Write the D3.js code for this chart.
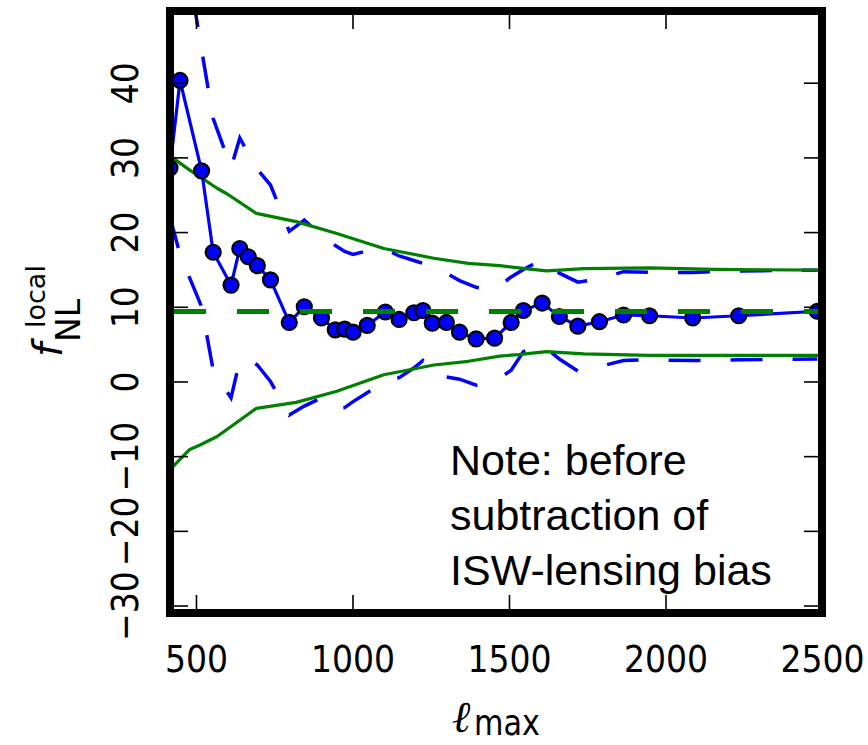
<!DOCTYPE html>
<html>
<head>
<meta charset="utf-8">
<script src="https://cdn.jsdelivr.net/npm/d3@7"></script>
<style>
  body { margin: 0; background: #fff; }
  svg { display: block; }
</style>
</head>
<body>
<div id="chart"></div>
<script>
// ell_max values of the estimates
var ellMax = [417, 449, 518, 555, 612, 640, 667, 696, 738, 798, 846, 901, 945, 975, 1002, 1047, 1105, 1149,
              1196, 1225, 1255, 1300, 1342, 1395, 1454, 1507, 1546, 1606, 1661, 1720, 1789, 1866, 1949, 2087, 2234, 2485];
var fnlEst = [28.6, 40.3, 28.2, 17.3, 12.9, 17.8, 16.7, 15.5, 13.6, 7.9, 10.0, 8.5, 6.9, 7.0, 6.6, 7.5, 9.3, 8.3,
              9.2, 9.5, 7.8, 7.9, 6.6, 5.7, 5.8, 7.9, 9.5, 10.5, 8.7, 7.4, 8.0, 8.9, 8.8, 8.5, 8.8, 9.4];
var errHi  = [56, 62, 44.4, 35.2, 28.6, 32.6, 30.5, 28.4, 26.3, 20.1, 21.6, 19.5, 18.2, 17.4, 17.0, 17.5, 17.7, 16.8,
              16.2, 15.8, 15.4, 14.5, 13.5, 12.6, 12.3, 14.0, 15.0, 16.3, 14.5, 13.3, 13.7, 14.7, 14.6, 14.6, 14.8, 14.9];
var errLo  = [22, 17, 10, 1.5, -2.2, 2.8, 3.0, 2.2, 0.0, -4.5, -3.3, -2.2, -3.6, -3.5, -2.7, -1.5, 0.0, 0.5,
              1.8, 2.8, 1.1, 0.6, 0.3, -0.5, 0.0, 1.5, 4.0, 4.9, 3.0, 1.4, 2.0, 2.8, 2.9, 2.8, 2.9, 3.0];

// expected spread (green band)
var bandEll = [417, 480, 513, 566, 600, 693, 820, 950, 1100, 1260, 1370, 1470, 1530, 1620, 1740, 1950, 2160, 2500];
var bandHi  = [30.2, 28.3, 27.4, 25.9, 25.1, 22.5, 21.4, 19.8, 17.8, 16.5, 15.8, 15.5, 15.2, 14.8, 15.1, 15.2, 15.0, 14.9];
var bandLo  = [-11.8, -9.1, -8.5, -7.4, -6.4, -3.6, -2.8, -1.3, 0.9, 2.2, 2.7, 3.4, 3.6, 4.0, 3.7, 3.5, 3.5, 3.5];

var fnlMean = 9.37;

var xTicks = [500, 1000, 1500, 2000, 2500];
var yTicks = [-30, -20, -10, 0, 10, 20, 30, 40];
var noteLines = ["Note: before", "subtraction of", "ISW-lensing bias"];

var W = 868, H = 745;
var pLeft = 170, pRight = 822, pTop = 11, pBottom = 613;
var blue = "#0000ff", green = "#008000";

var svg = d3.select("#chart").append("svg")
    .attr("width", W)
    .attr("height", H);

var xScale = d3.scaleLinear().domain([417, 2500]).range([pLeft, pRight]);
var yScale = d3.scaleLinear().domain([-31, 49.6]).range([pBottom, pTop]);

svg.append("clipPath").attr("id", "plotClip")
    .append("rect")
    .attr("x", pLeft).attr("y", pTop)
    .attr("width", pRight - pLeft).attr("height", pBottom - pTop);

var plot = svg.append("g").attr("clip-path", "url(#plotClip)");

var line = d3.line()
    .x(function (d) { return xScale(d[0]); })
    .y(function (d) { return yScale(d[1]); });

// blue dashed error lines
[errHi, errLo].forEach(function (arr) {
    plot.append("path")
        .datum(d3.zip(ellMax, arr))
        .attr("d", line)
        .attr("fill", "none")
        .attr("stroke", blue)
        .attr("stroke-width", 3.5)
        .attr("stroke-dasharray", "32,30");
});

// green band
[bandHi, bandLo].forEach(function (arr) {
    plot.append("path")
        .datum(d3.zip(bandEll, arr))
        .attr("d", line)
        .attr("fill", "none")
        .attr("stroke", green)
        .attr("stroke-width", 3.2)
        .attr("stroke-linejoin", "round");
});

// estimates
plot.append("path")
    .datum(d3.zip(ellMax, fnlEst))
    .attr("d", line)
    .attr("fill", "none")
    .attr("stroke", blue)
    .attr("stroke-width", 3.2);

plot.selectAll("circle")
    .data(d3.zip(ellMax, fnlEst))
    .enter()
    .append("circle")
    .attr("cx", function (d) { return xScale(d[0]); })
    .attr("cy", function (d) { return yScale(d[1]); })
    .attr("r", 7.5)
    .attr("fill", blue)
    .attr("stroke", "#000")
    .attr("stroke-width", 2.2);

// mean line
plot.append("line")
    .attr("x1", pLeft).attr("x2", pRight)
    .attr("y1", yScale(fnlMean)).attr("y2", yScale(fnlMean))
    .attr("stroke", green)
    .attr("stroke-width", 5)
    .attr("stroke-dasharray", "32,31")
    .attr("stroke-dashoffset", -4);

// axes (ticks point inward)
function styleAxis(g) {
    g.select(".domain").remove();
    g.selectAll(".tick line").attr("stroke", "#000").attr("stroke-width", 1.6);
}

var xAxis = svg.append("g")
    .attr("transform", "translate(0," + pBottom + ")")
    .call(d3.axisBottom(xScale).tickValues(xTicks).tickSizeInner(-18).tickSizeOuter(0).tickFormat(d3.format("d")))
    .call(styleAxis);
xAxis.selectAll(".tick text")
    .attr("x", null).attr("y", null).attr("dy", null)
    .attr("transform", "translate(0," + (672 - pBottom) + ") scale(0.87,1)")
    .attr("text-anchor", "middle")
    .attr("fill", "#000")
    .style("font-family", "'DejaVu Sans', sans-serif")
    .style("font-size", "38px");

svg.append("g")
    .attr("transform", "translate(0," + pTop + ")")
    .call(d3.axisTop(xScale).tickValues(xTicks).tickSizeInner(-18).tickSizeOuter(0).tickFormat(""))
    .call(styleAxis);

var yAxis = svg.append("g")
    .attr("transform", "translate(" + pLeft + ",0)")
    .call(d3.axisLeft(yScale).tickValues(yTicks).tickSizeInner(-18).tickSizeOuter(0)
        .tickFormat(function (d) { return d < 0 ? "\u2212" + Math.abs(d) : String(d); }))
    .call(styleAxis);
yAxis.selectAll(".tick text")
    .attr("x", null).attr("y", null).attr("dy", null)
    .attr("transform", "translate(" + (138 - pLeft) + ",0) rotate(-90) scale(0.87,1)")
    .attr("text-anchor", "middle")
    .attr("fill", "#000")
    .style("font-family", "'DejaVu Sans', sans-serif")
    .style("font-size", "38px");

svg.append("g")
    .attr("transform", "translate(" + pRight + ",0)")
    .call(d3.axisRight(yScale).tickValues(yTicks).tickSizeInner(-18).tickSizeOuter(0).tickFormat(""))
    .call(styleAxis);

// frame
svg.append("rect")
    .attr("x", pLeft).attr("y", pTop)
    .attr("width", pRight - pLeft).attr("height", pBottom - pTop)
    .attr("fill", "none")
    .attr("stroke", "#000")
    .attr("stroke-width", 8);

// y label: f_NL^local
var yLab = svg.append("g")
    .attr("transform", "translate(62,357) rotate(-90)")
    .style("font-family", "'DejaVu Sans', sans-serif")
    .attr("fill", "#000");
yLab.append("text").attr("x", 0).attr("y", 0)
    .style("font-size", "40px").style("font-style", "italic")
    .text("f");
yLab.append("text").attr("x", 29).attr("y", -17)
    .style("font-size", "27px")
    .text("local");
yLab.append("text").attr("x", 15).attr("y", 18)
    .style("font-size", "33px")
    .text("NL");

// x label: ell_max
svg.append("text")
    .attr("x", 452).attr("y", 732)
    .style("font-family", "'DejaVu Serif', serif")
    .style("font-style", "italic")
    .style("font-size", "44px")
    .attr("fill", "#000")
    .text("\u2113");
svg.append("text")
    .attr("transform", "translate(474,735) scale(0.84,1)")
    .style("font-family", "'DejaVu Sans', sans-serif")
    .style("font-size", "36px")
    .attr("fill", "#000")
    .text("max");

// note
svg.append("g").selectAll("text")
    .data(noteLines)
    .enter()
    .append("text")
    .attr("x", 450)
    .attr("y", function (d, i) { return 475 + i * 55; })
    .style("font-family", "'Liberation Sans', Arial, sans-serif")
    .style("font-size", "43px")
    .attr("fill", "#000")
    .text(function (d) { return d; });
</script>
</body>
</html>
